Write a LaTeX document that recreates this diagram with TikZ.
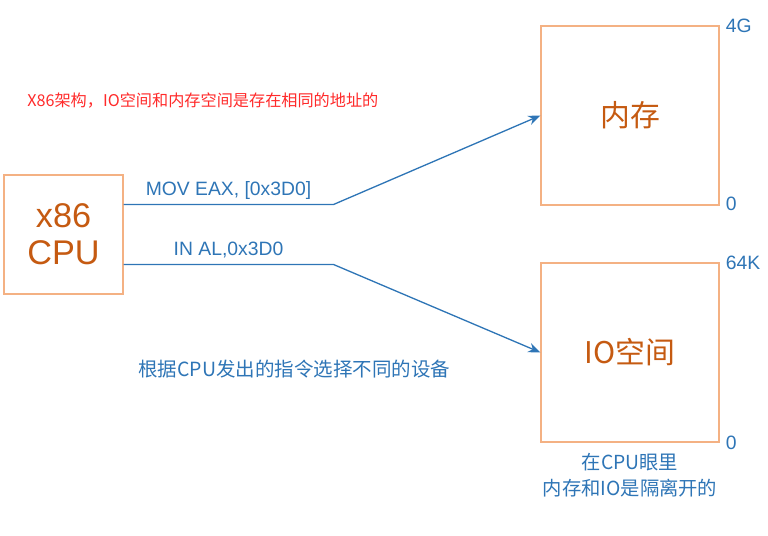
\documentclass[tikz,border=0pt]{standalone}
\usepackage{fontspec}
\setmainfont{Liberation Sans}
\newfontfamily\cjk{Noto Sans CJK SC}
\usepackage{tikz}
\usetikzlibrary{shapes.geometric, arrows}
\usetikzlibrary{arrows.meta}
\usetikzlibrary{positioning}
\definecolor{lineblue}{HTML}{2E75B6}
\definecolor{boxorange}{HTML}{F4B183}
\definecolor{textbrown}{HTML}{C55A11}
\definecolor{notered}{HTML}{FF2A2A}
\tikzstyle{cpubox} = [rectangle, minimum width=2.38cm, minimum height=2.38cm, align=center, draw=boxorange, line width=0.6pt, text=textbrown, font=\fontsize{19.5}{21}\selectfont]
\tikzstyle{space} = [rectangle, minimum width=3.56cm, minimum height=3.58cm, text centered, draw=boxorange, line width=0.6pt, text=textbrown, font=\cjk\fontsize{17}{20}\selectfont]
\tikzstyle{addr} = [anchor=west, inner sep=0pt, xshift=0.12cm, text=lineblue, font=\fontsize{11}{13}\selectfont]
\tikzstyle{cmd} = [anchor=base, yshift=0.18cm, text=lineblue, font=\fontsize{11}{13}\selectfont]
\tikzstyle{remark} = [anchor=west, inner sep=0pt, text=lineblue, font=\cjk\fontsize{11.1}{13}\selectfont]
\tikzstyle{arrow} = [line width=0.75pt, lineblue, ->, >={Stealth[length=7pt, width=5.5pt]}]

\begin{document}
\begin{tikzpicture}[x=0.02cm, y=-0.02cm]
                        \useasboundingbox (0,0) rectangle (768,536);
                        \node (cpu) [cpubox] at (63.5,234.5) {x86\\CPU};
                        \node (mem) [space] at (630,115.5) {内存};
                        \node (io) [space] at (630,352.5) {IO空间};
                        \node (memtop) [addr] at (mem.north east) {4G};
                        \node (membot) [addr, yshift=0.04cm] at (mem.south east) {0};
                        \node (iotop) [addr] at (io.north east) {64K};
                        \node (iobot) [addr] at (io.south east) {0};
                        \node (arch) [anchor=west, inner sep=0pt, text=notered, font=\cjk\fontsize{9.2}{11}\selectfont] at (27,101) {X86架构，IO空间和内存空间是存在相同的地址的};
                        \node (select) [remark] at (138,369) {根据CPU发出的指令选择不同的设备};
                        \node (view) [below=0.09cm of io, align=center, text=lineblue, font=\cjk\fontsize{11}{14.7}\selectfont] {在CPU眼里\\内存和IO是隔离开的};
                        \draw [arrow] ([yshift=0.6cm]cpu.east) -- node[cmd] {MOV EAX, [0x3D0]} ++(210,0) -- (mem.west);
                        \draw [arrow] ([yshift=-0.6cm]cpu.east) -- node[cmd] {IN AL,0x3D0} ++(210,0) -- (io.west);
                    \end{tikzpicture}
\end{document}
